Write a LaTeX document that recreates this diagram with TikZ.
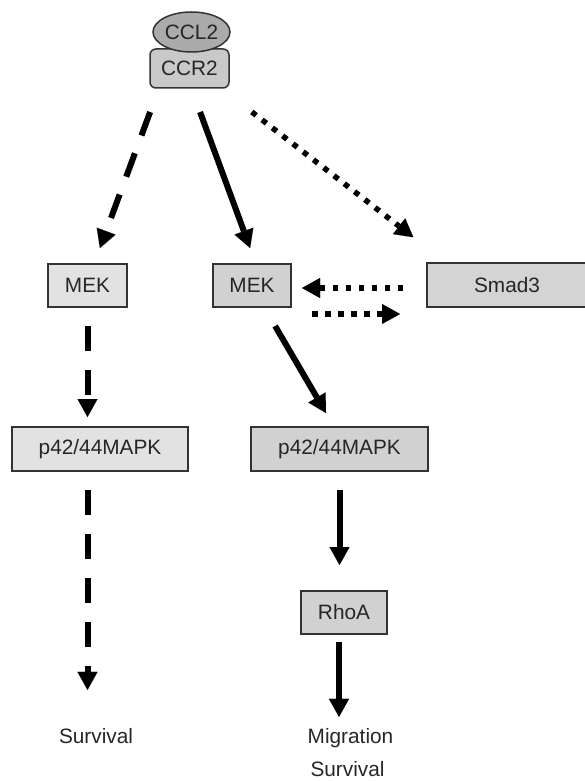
\documentclass[tikz,border=0pt]{standalone}
\usepackage{fontspec}
\setmainfont{Liberation Sans}
\usetikzlibrary{shapes.geometric,arrows.meta,calc}
\definecolor{ligandgray}{HTML}{ABABAB}
\definecolor{receptorgray}{HTML}{C9C9C9}
\definecolor{lightgray}{HTML}{E2E2E2}
\definecolor{midgray}{HTML}{D1D1D1}
\definecolor{smadgray}{HTML}{D4D4D4}
\tikzset{
	protein/.style={draw=black!80, line width=1.5pt, rectangle, inner sep=0pt, outer sep=0pt,
		minimum height=43pt, text=black!85, font=\fontsize{20.8}{25}\selectfont},
	outcome/.style={anchor=base, inner sep=0pt, outer sep=0pt, text=black!85,
		font=\fontsize{20.8}{25}\selectfont},
	solidarrow/.style={line width=6pt, -{Triangle[length=18pt,width=20pt,line width=0.01pt]}},
	dasharrow/.style={solidarrow, dash pattern=on 25pt off 19pt},
	dotarrow/.style={line width=5.5pt, dash pattern=on 5.5pt off 7.5pt,
		-{Triangle[length=18pt,width=20pt,line width=0.01pt]}}
}
\begin{document}
\begin{tikzpicture}[x=1pt,y=-1pt]
	\useasboundingbox (0,0) rectangle (585,781);

	\node[protein, rounded corners=6pt, fill=receptorgray, minimum width=79pt, minimum height=39pt] (ccr2) at (189.5,68.5) {CCR2};
	\node[protein, ellipse, fill=ligandgray, minimum width=77pt, minimum height=40pt] (ccl2) at (191.5,32) {CCL2};

	\node[protein, fill=lightgray, minimum width=79pt] (mekA) at (87.5,285.5) {MEK};
	\node[protein, fill=midgray, minimum width=78pt] (mekB) at (252,285.5) {MEK};
	\node[protein, fill=smadgray, minimum width=160pt, minimum height=44pt] (smad3) at (507,285) {Smad3};

	\node[protein, fill=lightgray, minimum width=176pt, minimum height=44pt] (p42A) at (100,449) {p42/44MAPK};
	\node[protein, fill=midgray, minimum width=177pt, minimum height=44pt] (p42B) at (339.5,449) {p42/44MAPK};
	\node[protein, fill=midgray, minimum width=86pt] (rhoa) at (344,612.5) {RhoA};

	\node[outcome] (survA) at (96,743) {Survival};
	\node[outcome] (migr) at (350.5,743) {Migration};
	\node[outcome] (survB) at (347.5,776) {Survival};

	\draw[dasharrow, shorten <=25.6pt, shorten >=17pt] ($(ccr2.south west)+(9,0)$) -- ($(mekA.north)+(6.5,0)$);
	\draw[solidarrow, shorten <=25.6pt, shorten >=17pt] ($(ccr2.south)+(1.7,0)$) -- ($(mekB.north)+(4,0)$);
	\draw[dotarrow, shorten <=39pt, shorten >=42pt] ($(ccr2.south east)+(-8,0)$) -- ($(smad3.north west)+(19.5,0)$);

	\draw[dotarrow, shorten <=24pt, shorten >=11pt] ($(smad3.west)+(0,3)$) -- ($(mekB.east)+(0,2.5)$);
	\draw[dotarrow, shorten <=21pt, shorten >=27pt] ($(mekB.east)+(0,28.5)$) -- ($(smad3.west)+(0,29)$);

	\draw[dasharrow, shorten <=19pt, shorten >=10pt] (mekA.south) -- ($(p42A.north)+(-12.5,0)$);
	\draw[solidarrow, shorten <=22pt, shorten >=16.2pt] ($(mekB.south)+(12,0)$) -- ($(p42B.north)+(-5.3,0)$);

	\draw[dasharrow, shorten <=19pt, shorten >=38pt] ($(p42A.south)+(-12.5,0)$) -- ($(survA.north)+(-8.5,0)$);
	\draw[solidarrow, shorten <=19pt, shorten >=26pt] (p42B.south) -- ($(rhoa.north)+(-4.5,0)$);
	\draw[solidarrow, shorten <=8pt, shorten >=11pt] ($(rhoa.south)+(-5,0)$) -- ($(migr.north)+(-11.5,0)$);

\end{tikzpicture}
\end{document}
